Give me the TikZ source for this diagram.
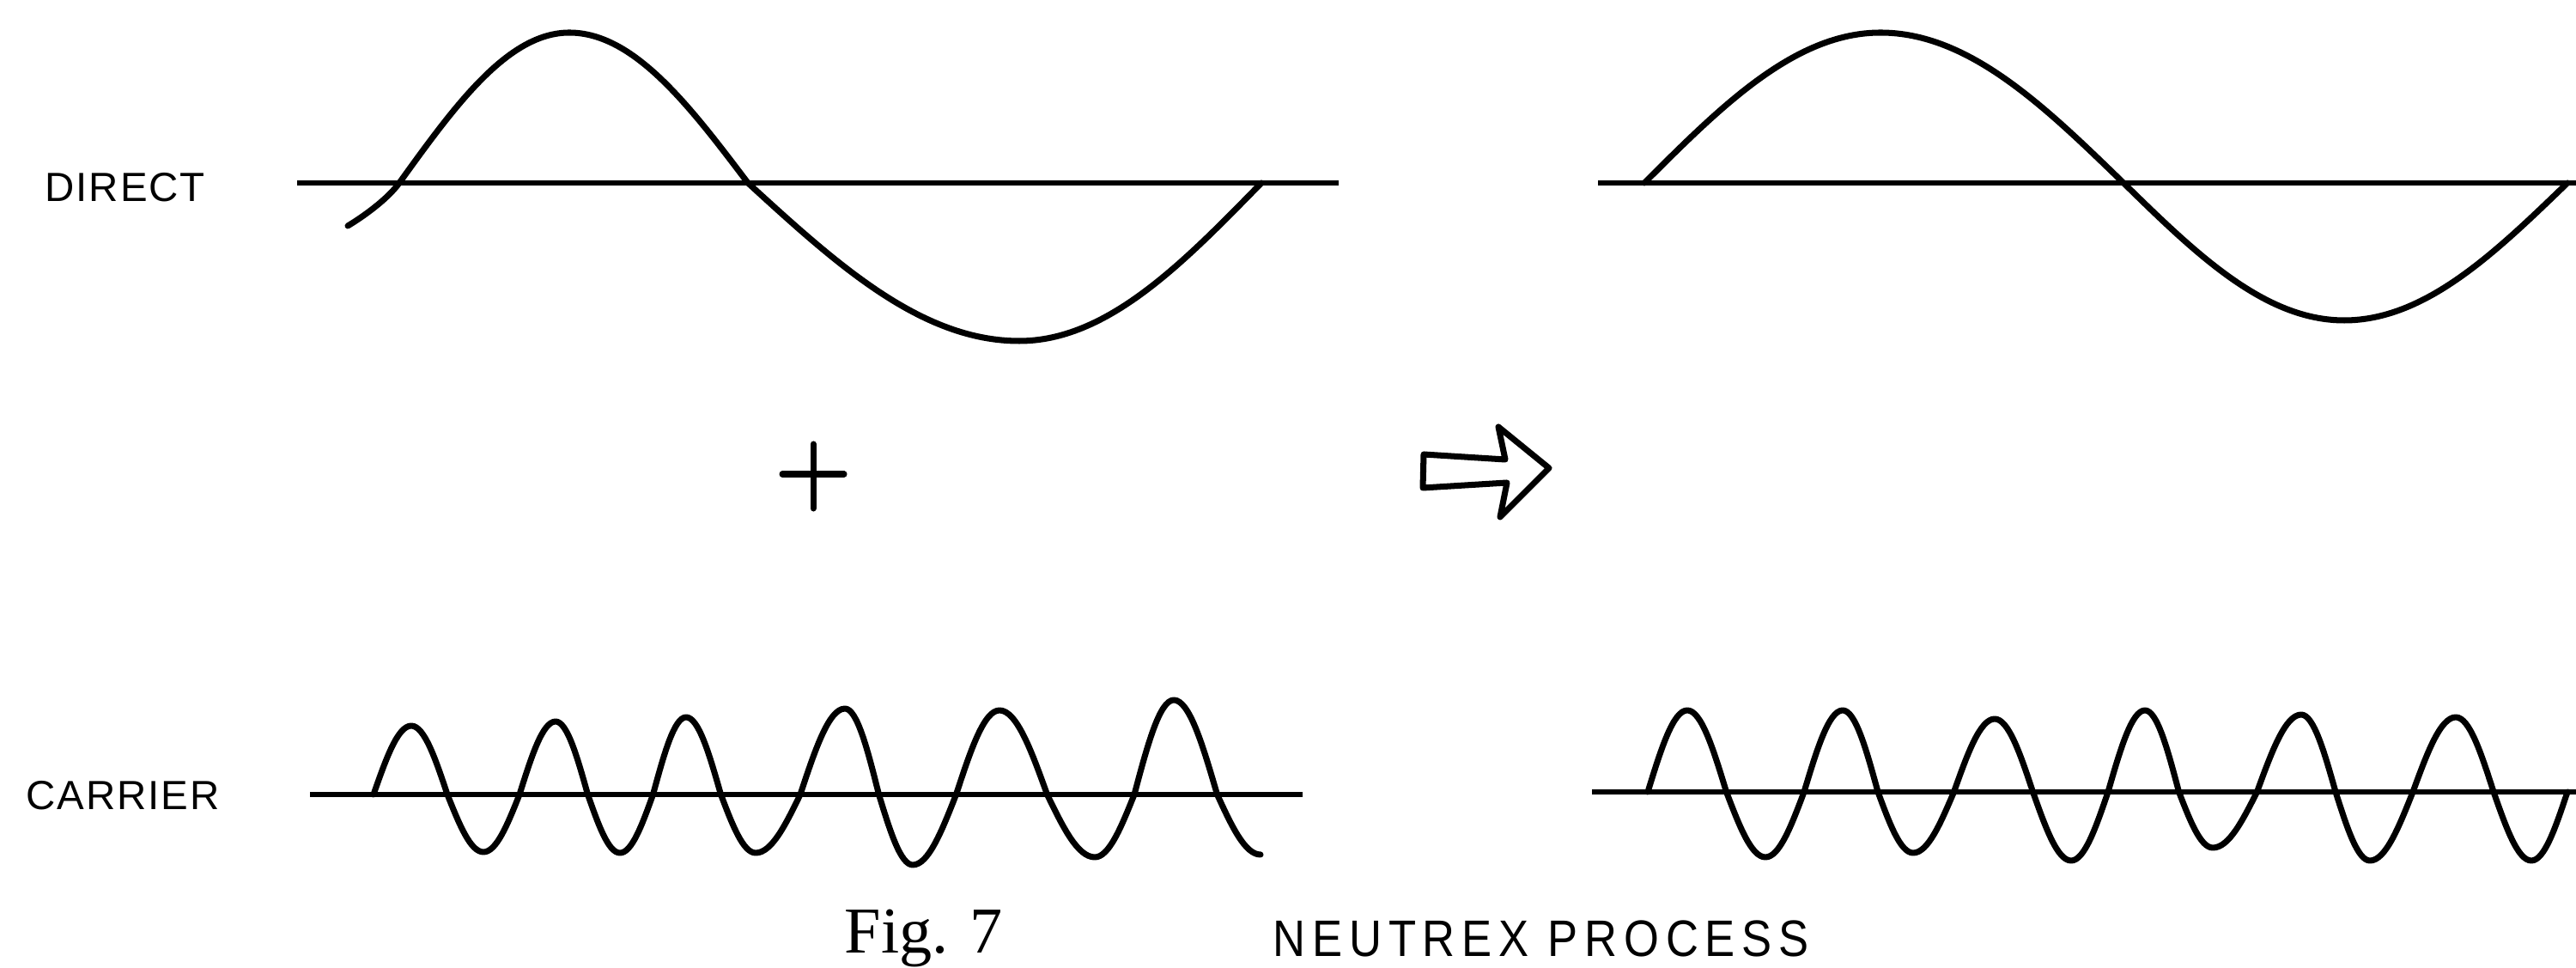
\documentclass[tikz,border=0pt]{standalone}
\usepackage{fontspec}
\setmainfont{Liberation Serif}
\newfontfamily\capsfont[LetterSpace=4]{Liberation Sans}
\newfontfamily\titlefont[LetterSpace=13,FakeStretch=0.88]{Liberation Sans}
\usepackage{tikz}

\begin{document}
\begin{tikzpicture}[scale=1,
  axisline/.style={line width=1.6pt},
  wave/.style={line width=2pt, line join=round, line cap=round},
  lbl/.style={inner sep=0pt, anchor=west, font=\capsfont\fontsize{13.5}{16}\selectfont}]
\useasboundingbox (0,0) rectangle (30,11.26);
% labels
\node (direct) at (0.52,9.08) [lbl] {DIRECT};
\node (carrier) at (0.30,2.00) [lbl] {CARRIER};
% direct wave, left
\draw[axisline] (3.46,9.13) -- (15.59,9.13);
\draw[wave] (4.05,8.63) .. controls (4.25,8.75) and (4.52,8.95) .. (4.65,9.13)
  sin (6.63,10.88) cos (8.71,9.13) sin (11.87,7.29) cos (14.69,9.13);
% carrier wave, left
\draw[axisline] (3.61,2.01) -- (15.17,2.01);
\draw[wave] (4.35,2.01) sin (4.79,2.81) cos (5.21,2.01) sin (5.63,1.34) cos (6.05,2.01)
  sin (6.47,2.86) cos (6.845,2.01) sin (7.22,1.33) cos (7.605,2.01)
  sin (7.99,2.91) cos (8.395,2.01) sin (8.80,1.33) cos (9.32,2.01)
  sin (9.84,3.01) cos (10.235,2.01) sin (10.63,1.19) cos (11.135,2.01)
  sin (11.64,2.99) cos (12.195,2.01) sin (12.75,1.28) cos (13.21,2.01)
  sin (13.67,3.11) cos (14.175,2.01) sin (14.68,1.31);
% plus
\draw[wave] (9.11,5.74) -- (9.83,5.74);
\draw[wave] (9.47,6.09) -- (9.47,5.34);
% hollow arrow
\draw[wave] (16.58,5.97) -- (17.53,5.91) -- (17.45,6.29) -- (18.04,5.81)
  -- (17.47,5.24) -- (17.55,5.64) -- (16.57,5.58) -- cycle;
% result, right
\draw[axisline] (18.61,9.13) -- (30,9.13);
\draw[wave] (19.15,9.13) sin (21.90,10.88) cos (24.73,9.13) sin (27.30,7.53) cos (29.90,9.13);
\draw[axisline] (18.54,2.04) -- (30,2.04);
\draw[wave] (19.19,2.04) sin (19.65,2.99) cos (20.105,2.04) sin (20.56,1.28) cos (21.01,2.04)
  sin (21.46,2.99) cos (21.87,2.04) sin (22.28,1.33) cos (22.755,2.04)
  sin (23.23,2.89) cos (23.675,2.04) sin (24.12,1.24) cos (24.55,2.04)
  sin (24.98,2.99) cos (25.375,2.04) sin (25.77,1.39) cos (26.285,2.04)
  sin (26.80,2.94) cos (27.20,2.04) sin (27.60,1.24) cos (28.10,2.04)
  sin (28.60,2.91) cos (29.04,2.04) sin (29.48,1.24) cos (29.90,2.04);
% caption
\node (fig) at (9.83,0.16) [anchor=base west, inner sep=0pt, font=\fontsize{21.7}{24}\selectfont] {Fig. 7};
\node (title) at (14.82,0.13) [anchor=base west, inner sep=0pt, font=\titlefont\fontsize{17}{20}\selectfont] {NEUTREX PROCESS};
\end{tikzpicture}
\end{document}
